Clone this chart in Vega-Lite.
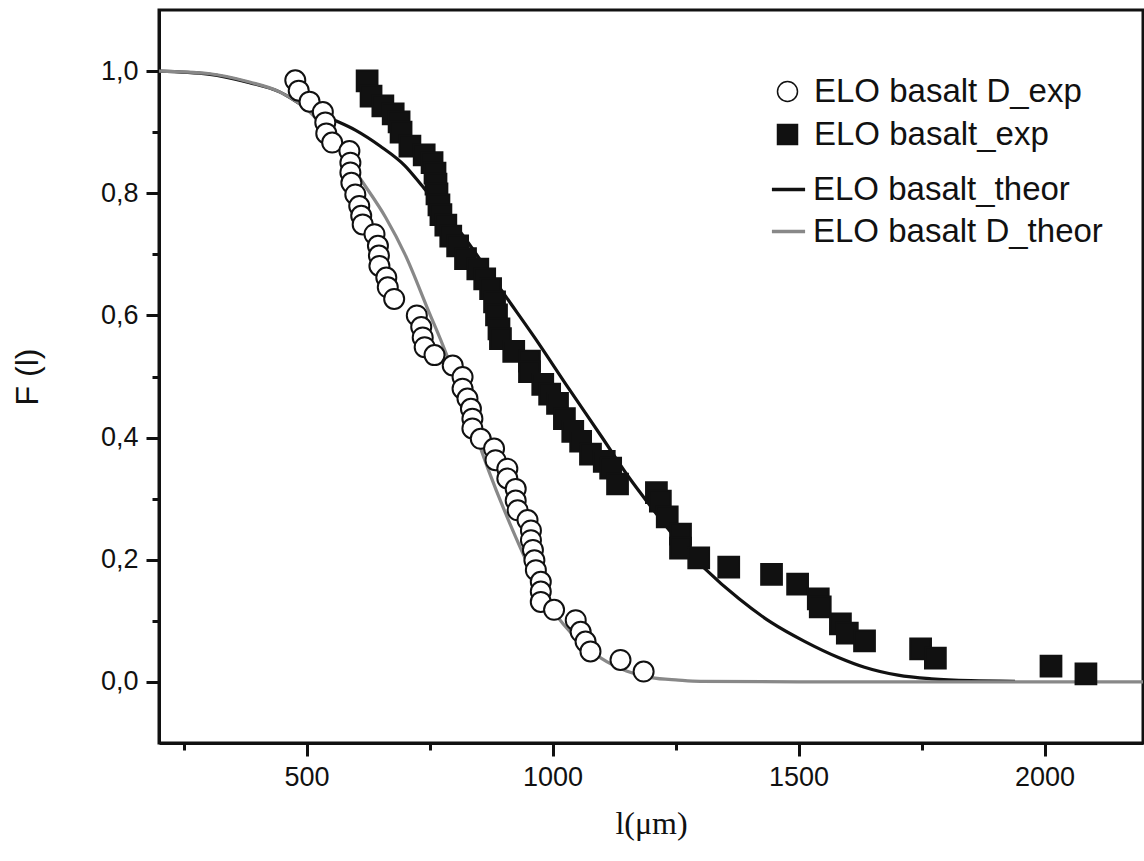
{
  "$schema": "https://vega.github.io/schema/vega-lite/v6.json",
  "width": 984,
  "height": 733,
  "padding": {"left": 159, "top": 10, "right": 1, "bottom": 118},
  "autosize": {"type": "none"},
  "background": "white",
  "config": {
    "view": {"stroke": "#111", "strokeWidth": 3},
    "font": "Liberation Sans",
    "axis": {
      "domainColor": "#111", "domainWidth": 3, "tickColor": "#111", "tickWidth": 3,
      "labelFont": "Liberation Sans", "labelFontSize": 27, "labelColor": "#111",
      "titleFontWeight": "normal", "titleColor": "#111", "grid": false, "labelFlush": false, "labelOverlap": false
    },
    "legend": {"labelFont": "Liberation Sans", "labelFontSize": 33, "labelColor": "#111", "labelLimit": 500}
  },
  "datasets": {
    "pts": [
      {"sample": "ELO basalt D_exp", "l": 477, "F": 0.985},
      {"sample": "ELO basalt D_exp", "l": 484, "F": 0.968},
      {"sample": "ELO basalt D_exp", "l": 506, "F": 0.950},
      {"sample": "ELO basalt D_exp", "l": 533, "F": 0.933},
      {"sample": "ELO basalt D_exp", "l": 538, "F": 0.916},
      {"sample": "ELO basalt D_exp", "l": 540, "F": 0.898},
      {"sample": "ELO basalt D_exp", "l": 552, "F": 0.883},
      {"sample": "ELO basalt D_exp", "l": 587, "F": 0.869},
      {"sample": "ELO basalt D_exp", "l": 589, "F": 0.850},
      {"sample": "ELO basalt D_exp", "l": 589, "F": 0.834},
      {"sample": "ELO basalt D_exp", "l": 591, "F": 0.817},
      {"sample": "ELO basalt D_exp", "l": 599, "F": 0.798},
      {"sample": "ELO basalt D_exp", "l": 607, "F": 0.779},
      {"sample": "ELO basalt D_exp", "l": 611, "F": 0.763},
      {"sample": "ELO basalt D_exp", "l": 614, "F": 0.749},
      {"sample": "ELO basalt D_exp", "l": 638, "F": 0.733},
      {"sample": "ELO basalt D_exp", "l": 645, "F": 0.714},
      {"sample": "ELO basalt D_exp", "l": 647, "F": 0.698},
      {"sample": "ELO basalt D_exp", "l": 648, "F": 0.681},
      {"sample": "ELO basalt D_exp", "l": 662, "F": 0.662},
      {"sample": "ELO basalt D_exp", "l": 665, "F": 0.646},
      {"sample": "ELO basalt D_exp", "l": 678, "F": 0.627},
      {"sample": "ELO basalt D_exp", "l": 724, "F": 0.600},
      {"sample": "ELO basalt D_exp", "l": 733, "F": 0.581},
      {"sample": "ELO basalt D_exp", "l": 736, "F": 0.564},
      {"sample": "ELO basalt D_exp", "l": 740, "F": 0.548},
      {"sample": "ELO basalt D_exp", "l": 760, "F": 0.535},
      {"sample": "ELO basalt D_exp", "l": 797, "F": 0.518},
      {"sample": "ELO basalt D_exp", "l": 817, "F": 0.499},
      {"sample": "ELO basalt D_exp", "l": 817, "F": 0.480},
      {"sample": "ELO basalt D_exp", "l": 827, "F": 0.464},
      {"sample": "ELO basalt D_exp", "l": 834, "F": 0.447},
      {"sample": "ELO basalt D_exp", "l": 837, "F": 0.431},
      {"sample": "ELO basalt D_exp", "l": 837, "F": 0.415},
      {"sample": "ELO basalt D_exp", "l": 854, "F": 0.398},
      {"sample": "ELO basalt D_exp", "l": 881, "F": 0.382},
      {"sample": "ELO basalt D_exp", "l": 884, "F": 0.363},
      {"sample": "ELO basalt D_exp", "l": 908, "F": 0.349},
      {"sample": "ELO basalt D_exp", "l": 908, "F": 0.333},
      {"sample": "ELO basalt D_exp", "l": 925, "F": 0.316},
      {"sample": "ELO basalt D_exp", "l": 925, "F": 0.297},
      {"sample": "ELO basalt D_exp", "l": 929, "F": 0.281},
      {"sample": "ELO basalt D_exp", "l": 949, "F": 0.265},
      {"sample": "ELO basalt D_exp", "l": 956, "F": 0.248},
      {"sample": "ELO basalt D_exp", "l": 956, "F": 0.232},
      {"sample": "ELO basalt D_exp", "l": 960, "F": 0.216},
      {"sample": "ELO basalt D_exp", "l": 963, "F": 0.199},
      {"sample": "ELO basalt D_exp", "l": 966, "F": 0.183},
      {"sample": "ELO basalt D_exp", "l": 976, "F": 0.164},
      {"sample": "ELO basalt D_exp", "l": 976, "F": 0.148},
      {"sample": "ELO basalt D_exp", "l": 976, "F": 0.131},
      {"sample": "ELO basalt D_exp", "l": 1003, "F": 0.118},
      {"sample": "ELO basalt D_exp", "l": 1047, "F": 0.101},
      {"sample": "ELO basalt D_exp", "l": 1057, "F": 0.082},
      {"sample": "ELO basalt D_exp", "l": 1067, "F": 0.066},
      {"sample": "ELO basalt D_exp", "l": 1077, "F": 0.050},
      {"sample": "ELO basalt D_exp", "l": 1138, "F": 0.036},
      {"sample": "ELO basalt D_exp", "l": 1185, "F": 0.017},
      {"sample": "ELO basalt_exp", "l": 623, "F": 0.984},
      {"sample": "ELO basalt_exp", "l": 631, "F": 0.959},
      {"sample": "ELO basalt_exp", "l": 655, "F": 0.943},
      {"sample": "ELO basalt_exp", "l": 676, "F": 0.930},
      {"sample": "ELO basalt_exp", "l": 688, "F": 0.917},
      {"sample": "ELO basalt_exp", "l": 692, "F": 0.900},
      {"sample": "ELO basalt_exp", "l": 710, "F": 0.877},
      {"sample": "ELO basalt_exp", "l": 739, "F": 0.863},
      {"sample": "ELO basalt_exp", "l": 755, "F": 0.850},
      {"sample": "ELO basalt_exp", "l": 761, "F": 0.833},
      {"sample": "ELO basalt_exp", "l": 763, "F": 0.815},
      {"sample": "ELO basalt_exp", "l": 765, "F": 0.799},
      {"sample": "ELO basalt_exp", "l": 769, "F": 0.781},
      {"sample": "ELO basalt_exp", "l": 773, "F": 0.765},
      {"sample": "ELO basalt_exp", "l": 783, "F": 0.748},
      {"sample": "ELO basalt_exp", "l": 793, "F": 0.730},
      {"sample": "ELO basalt_exp", "l": 807, "F": 0.714},
      {"sample": "ELO basalt_exp", "l": 823, "F": 0.693},
      {"sample": "ELO basalt_exp", "l": 848, "F": 0.676},
      {"sample": "ELO basalt_exp", "l": 862, "F": 0.660},
      {"sample": "ELO basalt_exp", "l": 874, "F": 0.644},
      {"sample": "ELO basalt_exp", "l": 882, "F": 0.622},
      {"sample": "ELO basalt_exp", "l": 886, "F": 0.601},
      {"sample": "ELO basalt_exp", "l": 891, "F": 0.578},
      {"sample": "ELO basalt_exp", "l": 894, "F": 0.562},
      {"sample": "ELO basalt_exp", "l": 921, "F": 0.541},
      {"sample": "ELO basalt_exp", "l": 953, "F": 0.525},
      {"sample": "ELO basalt_exp", "l": 953, "F": 0.508},
      {"sample": "ELO basalt_exp", "l": 980, "F": 0.487},
      {"sample": "ELO basalt_exp", "l": 994, "F": 0.471},
      {"sample": "ELO basalt_exp", "l": 1010, "F": 0.456},
      {"sample": "ELO basalt_exp", "l": 1024, "F": 0.431},
      {"sample": "ELO basalt_exp", "l": 1041, "F": 0.410},
      {"sample": "ELO basalt_exp", "l": 1057, "F": 0.394},
      {"sample": "ELO basalt_exp", "l": 1077, "F": 0.373},
      {"sample": "ELO basalt_exp", "l": 1105, "F": 0.361},
      {"sample": "ELO basalt_exp", "l": 1118, "F": 0.350},
      {"sample": "ELO basalt_exp", "l": 1132, "F": 0.324},
      {"sample": "ELO basalt_exp", "l": 1211, "F": 0.310},
      {"sample": "ELO basalt_exp", "l": 1219, "F": 0.296},
      {"sample": "ELO basalt_exp", "l": 1233, "F": 0.270},
      {"sample": "ELO basalt_exp", "l": 1260, "F": 0.242},
      {"sample": "ELO basalt_exp", "l": 1260, "F": 0.219},
      {"sample": "ELO basalt_exp", "l": 1297, "F": 0.203},
      {"sample": "ELO basalt_exp", "l": 1358, "F": 0.188},
      {"sample": "ELO basalt_exp", "l": 1445, "F": 0.176},
      {"sample": "ELO basalt_exp", "l": 1498, "F": 0.160},
      {"sample": "ELO basalt_exp", "l": 1540, "F": 0.136},
      {"sample": "ELO basalt_exp", "l": 1544, "F": 0.123},
      {"sample": "ELO basalt_exp", "l": 1585, "F": 0.095},
      {"sample": "ELO basalt_exp", "l": 1599, "F": 0.080},
      {"sample": "ELO basalt_exp", "l": 1634, "F": 0.067},
      {"sample": "ELO basalt_exp", "l": 1748, "F": 0.054},
      {"sample": "ELO basalt_exp", "l": 1778, "F": 0.039},
      {"sample": "ELO basalt_exp", "l": 2013, "F": 0.026},
      {"sample": "ELO basalt_exp", "l": 2084, "F": 0.013}
    ],
    "curves": [
      {"model": "ELO basalt_theor", "l": 200, "F": 1.0},
      {"model": "ELO basalt_theor", "l": 300, "F": 0.995},
      {"model": "ELO basalt_theor", "l": 384, "F": 0.981},
      {"model": "ELO basalt_theor", "l": 445, "F": 0.966},
      {"model": "ELO basalt_theor", "l": 500, "F": 0.940},
      {"model": "ELO basalt_theor", "l": 550, "F": 0.922},
      {"model": "ELO basalt_theor", "l": 600, "F": 0.903},
      {"model": "ELO basalt_theor", "l": 650, "F": 0.877},
      {"model": "ELO basalt_theor", "l": 700, "F": 0.845},
      {"model": "ELO basalt_theor", "l": 739, "F": 0.808},
      {"model": "ELO basalt_theor", "l": 780, "F": 0.770},
      {"model": "ELO basalt_theor", "l": 816, "F": 0.733},
      {"model": "ELO basalt_theor", "l": 860, "F": 0.683},
      {"model": "ELO basalt_theor", "l": 904, "F": 0.632},
      {"model": "ELO basalt_theor", "l": 965, "F": 0.562},
      {"model": "ELO basalt_theor", "l": 1033, "F": 0.480},
      {"model": "ELO basalt_theor", "l": 1100, "F": 0.401},
      {"model": "ELO basalt_theor", "l": 1155, "F": 0.335},
      {"model": "ELO basalt_theor", "l": 1195, "F": 0.292},
      {"model": "ELO basalt_theor", "l": 1250, "F": 0.236},
      {"model": "ELO basalt_theor", "l": 1310, "F": 0.185},
      {"model": "ELO basalt_theor", "l": 1379, "F": 0.136},
      {"model": "ELO basalt_theor", "l": 1445, "F": 0.097},
      {"model": "ELO basalt_theor", "l": 1513, "F": 0.066},
      {"model": "ELO basalt_theor", "l": 1581, "F": 0.040},
      {"model": "ELO basalt_theor", "l": 1634, "F": 0.024},
      {"model": "ELO basalt_theor", "l": 1702, "F": 0.011},
      {"model": "ELO basalt_theor", "l": 1770, "F": 0.005},
      {"model": "ELO basalt_theor", "l": 1850, "F": 0.002},
      {"model": "ELO basalt_theor", "l": 1940, "F": 0.001},
      {"model": "ELO basalt D_theor", "l": 200, "F": 1.0},
      {"model": "ELO basalt D_theor", "l": 300, "F": 0.996},
      {"model": "ELO basalt D_theor", "l": 384, "F": 0.982},
      {"model": "ELO basalt D_theor", "l": 445, "F": 0.966},
      {"model": "ELO basalt D_theor", "l": 513, "F": 0.928},
      {"model": "ELO basalt D_theor", "l": 560, "F": 0.880},
      {"model": "ELO basalt D_theor", "l": 614, "F": 0.818},
      {"model": "ELO basalt D_theor", "l": 661, "F": 0.760},
      {"model": "ELO basalt D_theor", "l": 700, "F": 0.700},
      {"model": "ELO basalt D_theor", "l": 749, "F": 0.605},
      {"model": "ELO basalt D_theor", "l": 776, "F": 0.553},
      {"model": "ELO basalt D_theor", "l": 820, "F": 0.460},
      {"model": "ELO basalt D_theor", "l": 870, "F": 0.346},
      {"model": "ELO basalt D_theor", "l": 925, "F": 0.237},
      {"model": "ELO basalt D_theor", "l": 960, "F": 0.175},
      {"model": "ELO basalt D_theor", "l": 1000, "F": 0.118},
      {"model": "ELO basalt D_theor", "l": 1050, "F": 0.070},
      {"model": "ELO basalt D_theor", "l": 1100, "F": 0.038},
      {"model": "ELO basalt D_theor", "l": 1150, "F": 0.018},
      {"model": "ELO basalt D_theor", "l": 1200, "F": 0.007},
      {"model": "ELO basalt D_theor", "l": 1256, "F": 0.003},
      {"model": "ELO basalt D_theor", "l": 1300, "F": 0.001},
      {"model": "ELO basalt D_theor", "l": 1500, "F": 0.0},
      {"model": "ELO basalt D_theor", "l": 2200, "F": 0.0}
    ]
  },
  "encoding": {
    "x": {
      "field": "l", "type": "quantitative",
      "scale": {"domain": [200, 2200], "nice": false, "zero": false},
      "axis": {
        "title": "l(\u03bcm)", "titleFont": "Liberation Serif", "titleFontSize": 32, "titlePadding": 18,
        "values": [250, 500, 750, 1000, 1250, 1500, 1750, 2000],
        "labelExpr": "datum.value % 500 == 0 ? format(datum.value, 'd') : ''",
        "tickSize": {"condition": {"test": "datum.value % 500 == 0", "value": 13}, "value": 7},
        "labelPadding": 8
      }
    },
    "y": {
      "field": "F", "type": "quantitative",
      "scale": {"domain": [-0.1, 1.1], "nice": false, "zero": false},
      "axis": {
        "title": "F (l)", "titleFont": "Liberation Sans", "titleFontSize": 32, "titlePadding": 56,
        "values": [0, 0.1, 0.2, 0.3, 0.4, 0.5, 0.6, 0.7, 0.8, 0.9, 1.0],
        "labelExpr": "round(datum.value * 10) % 2 == 0 ? replace(format(datum.value, '.1f'), '.', ',') : ''",
        "tickSize": {"condition": {"test": "round(datum.value * 10) % 2 == 0", "value": 13}, "value": 7},
        "labelPadding": 8
      }
    }
  },
  "layer": [
    {
      "data": {"name": "curves"},
      "mark": {"type": "line", "strokeWidth": 3.2, "clip": true, "interpolate": "monotone"},
      "encoding": {
        "stroke": {
          "field": "model", "type": "nominal",
          "scale": {"domain": ["ELO basalt_theor", "ELO basalt D_theor"], "range": ["#111111", "#888888"]},
          "legend": {
            "title": null, "orient": "none", "legendX": 611, "legendY": 161,
            "symbolType": "stroke", "symbolStrokeWidth": 3.5, "symbolSize": 1100,
            "labelOffset": 6, "rowPadding": 6, "padding": 0
          }
        },
        "order": {"field": "model", "sort": "descending"}
      }
    },
    {
      "data": {"name": "pts"},
      "mark": {"type": "point", "filled": false, "stroke": "#111111", "strokeWidth": 2, "opacity": 1, "clip": true},
      "encoding": {
        "shape": {
          "field": "sample", "type": "nominal",
          "scale": {"domain": ["ELO basalt D_exp", "ELO basalt_exp"], "range": ["circle", "square"]},
          "legend": {
            "title": null, "orient": "none", "legendX": 612, "legendY": 65,
            "labelOffset": 10, "rowPadding": 9, "padding": 0, "symbolSize": 400,
            "encode": {"symbols": {"update": {"stroke": {"value": "#111111"}, "strokeWidth": {"value": 2}}}}
          }
        },
        "fill": {
          "field": "sample", "type": "nominal",
          "scale": {"domain": ["ELO basalt D_exp", "ELO basalt_exp"], "range": ["#ffffff", "#111111"]},
          "legend": {
            "title": null, "orient": "none", "legendX": 612, "legendY": 65,
            "labelOffset": 10, "rowPadding": 9, "padding": 0, "symbolSize": 400,
            "encode": {"symbols": {"update": {"stroke": {"value": "#111111"}, "strokeWidth": {"value": 2}}}}
          }
        },
        "size": {"condition": {"test": "datum.sample == 'ELO basalt_exp'", "value": 430}, "value": 400}
      }
    }
  ]
}
